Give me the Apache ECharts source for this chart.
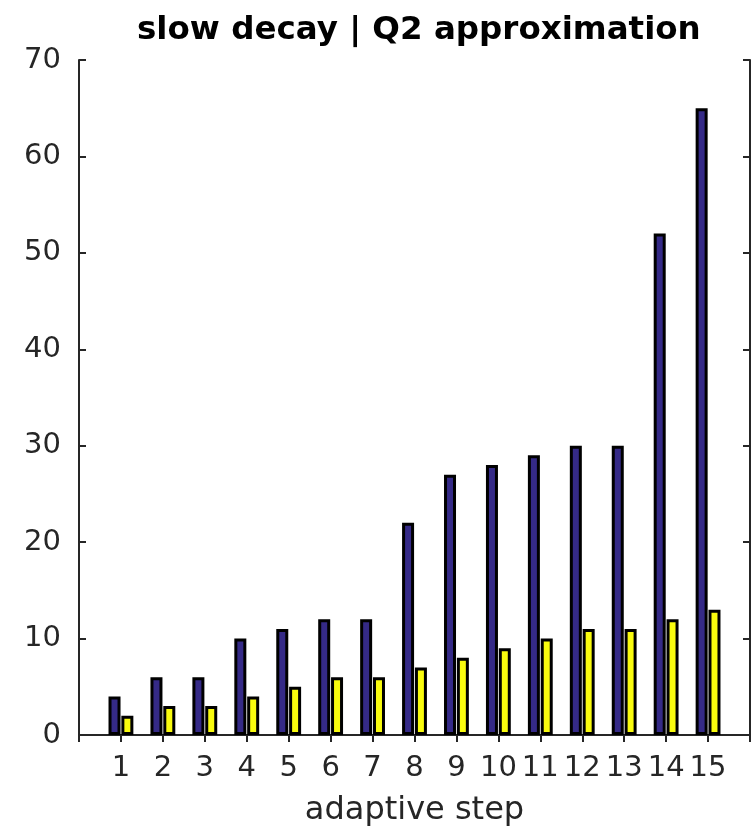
<!DOCTYPE html>
<html>
<head>
<meta charset="utf-8">
<script src="https://cdn.jsdelivr.net/npm/echarts@6/dist/echarts.min.js"></script>
<style>
  html, body { margin: 0; padding: 0; background: #ffffff; }
  #chart { width: 753px; height: 833px; }
</style>
</head>
<body>
<div id="chart"></div>
<script>
// ---- data ----
const steps = ['1','2','3','4','5','6','7','8','9','10','11','12','13','14','15'];
const blueValues = [4, 6, 6, 10, 11, 12, 12, 22, 27, 28, 29, 30, 30, 52, 65];
const yellowValues = [2, 3, 3, 4, 5, 6, 6, 7, 8, 9, 10, 11, 11, 12, 13];
const titleText = 'slow decay | Q2 approximation';
const xName = 'adaptive step';

// x limits run from 0 to 16 (as in the original), so pad categories on both ends
const categories = [''].concat(steps, ['']);
const pad = (arr) => ['-'].concat(arr, ['-']);

const FONT = 'DejaVu Sans';
const AX = '#262626';

const chart = echarts.init(document.getElementById('chart'), null, { renderer: 'canvas' });

const barCommon = {
  type: 'bar',
  barWidth: 12,
  barGap: '7%',
  emphasis: { disabled: true },
  animation: false
};

chart.setOption({
  backgroundColor: '#ffffff',
  animation: false,
  title: {
    text: titleText,
    left: 132,
    top: 9,
    textStyle: { fontFamily: FONT, fontSize: 32.5, fontWeight: 'bold', color: '#000000' }
  },
  grid: { left: 79, right: 1, top: 60, bottom: 98, containLabel: false },
  xAxis: [
    {
      type: 'category',
      position: 'bottom',
      data: categories,
      boundaryGap: false,
      name: xName,
      nameLocation: 'middle',
      nameGap: 60,
      nameTextStyle: { fontFamily: FONT, fontSize: 32, color: AX },
      axisLine: { show: true, lineStyle: { color: AX, width: 2 } },
      axisTick: { show: false },
      axisLabel: { show: true, interval: 0, margin: 19, fontFamily: FONT, fontSize: 29, color: AX },
      splitLine: { show: false }
    },
    {
      type: 'category',
      position: 'top',
      data: categories,
      boundaryGap: false,
      axisLine: { show: true, lineStyle: { color: AX, width: 2 } },
      axisTick: { show: true, inside: true, length: 7, interval: 0, lineStyle: { color: AX, width: 2 } },
      axisLabel: { show: false },
      splitLine: { show: false }
    }
  ],
  yAxis: [
    {
      type: 'value',
      position: 'left',
      min: 0, max: 70, interval: 10,
      axisLine: { show: true, lineStyle: { color: AX, width: 2 } },
      axisTick: { show: true, inside: true, length: 7, lineStyle: { color: AX, width: 2 } },
      axisLabel: { show: true, margin: 18, fontFamily: FONT, fontSize: 29, color: AX },
      splitLine: { show: false }
    },
    {
      type: 'value',
      position: 'right',
      min: 0, max: 70, interval: 10,
      axisLine: { show: true, lineStyle: { color: AX, width: 2 } },
      axisTick: { show: true, inside: true, length: 7, lineStyle: { color: AX, width: 2 } },
      axisLabel: { show: false },
      splitLine: { show: false }
    }
  ],
  series: [
    Object.assign({}, barCommon, {
      name: 'blue',
      xAxisIndex: 0, yAxisIndex: 0,
      data: pad(blueValues),
      itemStyle: { color: '#352a87', borderColor: '#000000', borderWidth: 3 }
    }),
    Object.assign({}, barCommon, {
      name: 'yellow',
      xAxisIndex: 0, yAxisIndex: 0,
      data: pad(yellowValues),
      itemStyle: { color: '#f9fb0e', borderColor: '#000000', borderWidth: 3 }
    })
  ]
});
</script>
</body>
</html>
